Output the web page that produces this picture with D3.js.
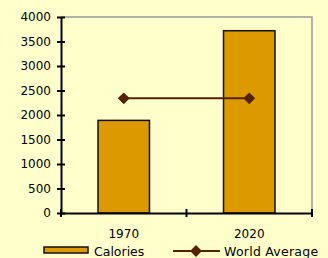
<!DOCTYPE html>
<meta charset="utf-8">
<head>
<title>Calories</title>
<script src="https://cdn.jsdelivr.net/npm/d3@7"></script>
<style>
  body { margin: 0; background: #ffffcc; }
  text { font-family: "DejaVu Sans", sans-serif; font-size: 12px; fill: #000; }
</style>
</head>
<body>
<svg></svg>
<script>
var years = ["1970", "2020"];
var calories = [1890, 3720];
var worldAverage = [2340, 2340];
var yTicks = [0, 500, 1000, 1500, 2000, 2500, 3000, 3500, 4000];

var W = 328, H = 258;
var margin = {top: 17, right: 16, bottom: 45, left: 61};
var width = W - margin.left - margin.right;
var height = H - margin.top - margin.bottom;

var svg = d3.select("svg").attr("width", W).attr("height", H)
  .style("background", "#ffffcc");

var g = svg.append("g").attr("transform", "translate(" + margin.left + "," + margin.top + ")");

var x = d3.scaleBand().domain(years).range([0, width]).paddingInner(0.59).paddingOuter(0.295);
var y = d3.scaleLinear().domain([0, 4000]).range([height, 0]);

// top and right frame
g.append("path")
  .attr("d", "M0,0H" + width + "V" + height)
  .attr("fill", "none").attr("stroke", "#999").attr("stroke-width", 1.5);

g.selectAll(".bar")
  .data(calories)
  .enter().append("rect")
  .attr("x", function(d, i) { return x(years[i]); })
  .attr("y", function(d) { return y(d); })
  .attr("width", x.bandwidth())
  .attr("height", function(d) { return height - y(d); })
  .attr("fill", "#dd9900")
  .attr("stroke", "#111").attr("stroke-width", 1.5);

// y axis
var yAxis = g.append("g")
  .call(d3.axisLeft(y).tickValues(yTicks).tickFormat(d3.format("d")).tickSize(4).tickSizeOuter(0));
yAxis.select(".domain").attr("stroke-width", 2);
yAxis.selectAll(".tick line").attr("x1", -4).attr("x2", 4).attr("stroke-width", 2);
yAxis.selectAll(".tick text").attr("x", -10).style("font-size", "12px");

// x axis
var xAxis = g.append("g").attr("transform", "translate(0," + height + ")")
  .call(d3.axisBottom(x).tickSize(0).tickSizeOuter(0));
xAxis.select(".domain").attr("stroke-width", 2);
xAxis.selectAll(".tick text").attr("y", 16).attr("dy", "0.71em").style("font-size", "12px");
var bounds = [0, x.step(), width];
xAxis.selectAll(".xb")
  .data(bounds)
  .enter().append("line")
  .attr("x1", function(d) { return d; }).attr("x2", function(d) { return d; })
  .attr("y1", -4).attr("y2", 4)
  .attr("stroke", "#000").attr("stroke-width", 2);

// world average line
var cx = function(i) { return x(years[i]) + x.bandwidth() / 2; };
var line = d3.line().x(function(d, i) { return cx(i); }).y(function(d) { return y(d); });
g.append("path").datum(worldAverage)
  .attr("d", line).attr("fill", "none").attr("stroke", "#552200").attr("stroke-width", 2);
var diamond = d3.symbol().type(d3.symbolDiamond2).size(90);
g.selectAll(".pt")
  .data(worldAverage)
  .enter().append("path")
  .attr("d", diamond)
  .attr("transform", function(d, i) { return "translate(" + cx(i) + "," + y(d) + ")"; })
  .attr("fill", "#552200");

// legend
var lg = svg.append("g");
lg.append("rect").attr("x", 44).attr("y", 247).attr("width", 44).attr("height", 6)
  .attr("fill", "#dd9900").attr("stroke", "#111").attr("stroke-width", 1.5);
lg.append("text").attr("x", 94).attr("y", 256).style("font-size", "12.5px").text("Calories");
lg.append("line").attr("x1", 173).attr("x2", 220).attr("y1", 251).attr("y2", 251)
  .attr("stroke", "#552200").attr("stroke-width", 2);
lg.append("path").attr("d", diamond).attr("transform", "translate(196,251)").attr("fill", "#552200");
lg.append("text").attr("x", 224).attr("y", 256).style("font-size", "12.5px")
  .style("letter-spacing", "0.25px").text("World Average");
</script>
</body>
